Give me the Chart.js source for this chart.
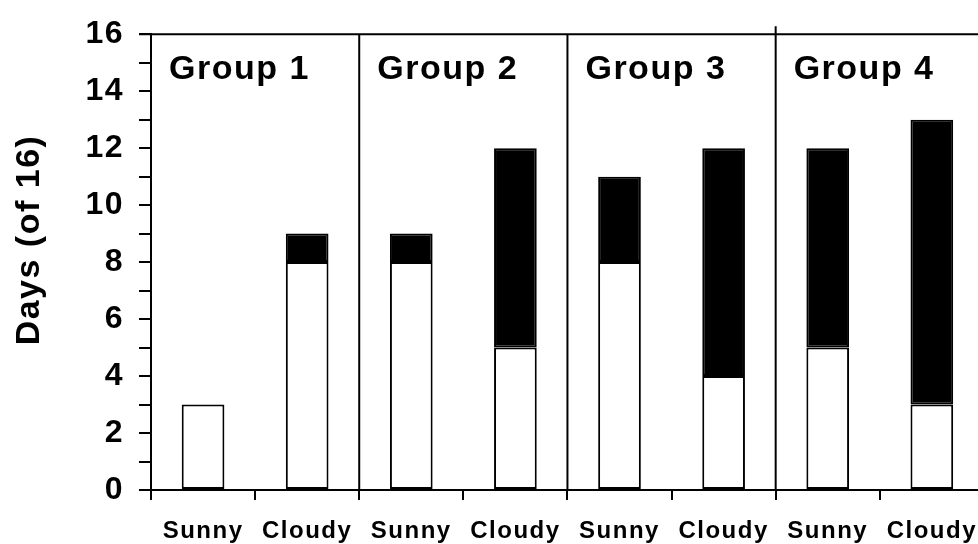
<!DOCTYPE html>
<html>
<head>
<meta charset="utf-8">
<script src="https://cdn.jsdelivr.net/npm/chart.js@4"></script>
<style>
html, body { margin:0; padding:0; overflow:hidden; background:#fff; }
#wrap { width:994px; height:544px; }
</style>
</head>
<body>
<div id="wrap"><canvas id="c" width="994" height="544"></canvas></div>
<script>
const categories = ['Sunny','Cloudy','Sunny','Cloudy','Sunny','Cloudy','Sunny','Cloudy'];
const groupNames = ['Group 1','Group 2','Group 3','Group 4'];
const whiteDays = [3, 8, 8, 5, 8, 4, 5, 3];
const blackDays = [0, 1, 1, 7, 3, 8, 7, 10];
const yLabelValues = [0, 2, 4, 6, 8, 10, 12, 14, 16];
const yTitle = 'Days (of 16)';

const FONT = '"Liberation Sans", Arial, sans-serif';

const spacingPlugin = {
  id: 'spacing',
  beforeUpdate(chart) { chart.ctx.letterSpacing = '1.5px'; },
  beforeDraw(chart) { chart.ctx.letterSpacing = '1.5px'; }
};

const decorPlugin = {
  id: 'decor',
  afterDraw(chart) {
    const ctx = chart.ctx;
    const xs = chart.scales.x, ys = chart.scales.y;
    const area = chart.chartArea;
    ctx.save();
    ctx.strokeStyle = '#000';
    ctx.lineWidth = 2;
    // top frame line
    const yTop = ys.getPixelForValue(16);
    ctx.beginPath();
    ctx.moveTo(area.left - 12, yTop);
    ctx.lineTo(chart.width, yTop);
    ctx.stroke();
    // group dividers
    for (let g = 1; g < groupNames.length; g++) {
      const i = g * 2;
      const bx = (xs.getPixelForValue(i - 1) + xs.getPixelForValue(i)) / 2;
      ctx.beginPath();
      ctx.moveTo(bx, yTop - (g === 3 ? 8 : 0));
      ctx.lineTo(bx, area.bottom);
      ctx.stroke();
    }
    // group labels
    ctx.fillStyle = '#000';
    ctx.font = 'bold 34px ' + FONT;
    ctx.textAlign = 'left';
    ctx.textBaseline = 'alphabetic';
    for (let g = 0; g < groupNames.length; g++) {
      const i = g * 2;
      const left = i === 0 ? area.left : (xs.getPixelForValue(i - 1) + xs.getPixelForValue(i)) / 2;
      ctx.fillText(groupNames[g], left + 18, 79);
    }
    // y title
    ctx.font = 'bold 34px ' + FONT;
    ctx.translate(30, 240);
    ctx.rotate(-Math.PI / 2);
    ctx.textAlign = 'center';
    ctx.textBaseline = 'middle';
    ctx.fillText(yTitle, 0, 0);
    ctx.restore();
  }
};

new Chart(document.getElementById('c'), {
  type: 'bar',
  data: {
    labels: categories,
    datasets: [
      { label: 'white', data: whiteDays, backgroundColor: '#fff', borderColor: '#000', borderWidth: 2, borderSkipped: false },
      { label: 'black', data: blackDays, backgroundColor: '#000', borderColor: '#000', borderWidth: 2, borderSkipped: false }
    ]
  },
  options: {
    responsive: false,
    animation: false,
    events: [],
    layout: { padding: { top: 30, left: 0, right: 0, bottom: 0 } },
    plugins: { legend: { display: false }, tooltip: { enabled: false } },
    datasets: { bar: { categoryPercentage: 1, barPercentage: 0.41 } },
    scales: {
      x: {
        stacked: true,
        offset: true,
        afterFit(s) { s.height = 54; },
        grid: { offset: true, drawOnChartArea: false, drawTicks: true, tickLength: 10, color: '#000', lineWidth: 2 },
        border: { color: '#000', width: 2 },
        ticks: { color: '#000', font: { family: FONT, size: 24, weight: 'bold' }, padding: 17, maxRotation: 0, autoSkip: false }
      },
      y: {
        stacked: true,
        min: 0, max: 16,
        afterFit(s) { s.width = 151; },
        grid: { drawOnChartArea: false, drawTicks: true, tickLength: 12, color: '#000', lineWidth: 2 },
        border: { color: '#000', width: 2 },
        ticks: {
          stepSize: 1, autoSkip: false, color: '#000', padding: 15,
          font: { family: FONT, size: 32, weight: 'bold' },
          callback: (v) => yLabelValues.includes(v) ? String(v) : ''
        }
      }
    }
  },
  plugins: [spacingPlugin, decorPlugin]
});
</script>
</body>
</html>
